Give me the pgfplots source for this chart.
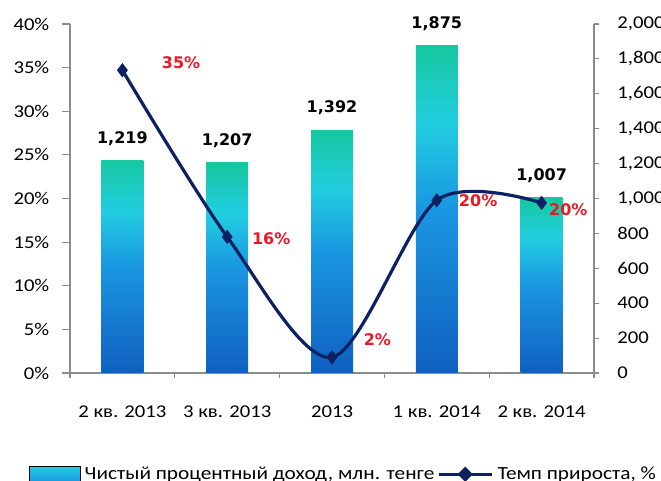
\documentclass[border=0pt]{standalone}
\usepackage{pgfplots}
\pgfplotsset{compat=1.18}
\usepackage{fontspec}
\setmainfont{Carlito}[FakeStretch=1.15]
\newfontfamily\lblfont{DejaVu Sans}
\definecolor{bartop}{RGB}{22,200,160}
\definecolor{barcyan}{RGB}{34,205,225}
\definecolor{barmid}{RGB}{26,150,225}
\definecolor{barbot}{RGB}{16,96,192}
\definecolor{navy}{RGB}{12,32,100}
\definecolor{lblred}{RGB}{235,25,35}
\definecolor{axgray}{RGB}{140,140,140}
\pgfdeclareverticalshading{barshade}{100bp}{color(0bp)=(barbot); color(25bp)=(barbot); color(50bp)=(barmid); color(63bp)=(barcyan); color(75bp)=(bartop); color(100bp)=(bartop)}
\pgfdeclareverticalshading{legshade}{100bp}{color(0bp)=(barmid); color(25bp)=(barmid); color(75bp)=(barcyan); color(100bp)=(barcyan)}
\pgfplotsset{
  redlbl/.style 2 args={draw=none, mark=none, forget plot,
    nodes near coords={\lblfont\bfseries\pgfplotspointmeta\%},
    point meta=explicit symbolic,
    every node near coord/.append style={font=\fontsize{12}{14}\selectfont, text=lblred, anchor=center, xshift=#1, yshift=#2}},
  onebar/.style={draw=none, shading=barshade, bar shift=0pt, forget plot,
    nodes near coords={\lblfont\bfseries\pgfmathprintnumber[assume math mode=true,1000 sep={,}]{\pgfplotspointmeta}},
    every node near coord/.append style={font=\fontsize{12}{14}\selectfont, black, anchor=south, inner sep=0pt, yshift=11pt}},
}

\begin{document}
\begin{tikzpicture}[x=1pt,y=1pt]
\useasboundingbox (-52.5,-81) rectangle (443.25,279.75);
\begin{axis}[
  at={(0,0)}, anchor=south west, scale only axis,
  width=393pt, height=261.75pt,
  xmin=-0.5, xmax=4.5, ymin=0, ymax=2000,
  axis y line*=right, axis x line*=bottom,
  axis line style={axgray, line width=0.9pt},
  tick align=outside,
  xtick={0,...,4},
  xticklabels={2 кв. 2013, 3 кв. 2013, 2013, 1 кв. 2014, 2 кв. 2014},
  major x tick style={draw=none},
  minor xtick={-0.5,0.5,1.5,2.5,3.5,4.5},
  minor x tick style={draw=axgray, line width=0.8pt},
  minor tick length=4pt,
  ytick={0,200,...,2000},
  ytick style={draw=axgray, line width=0.8pt},
  major tick length=4pt,
  yticklabel style={font=\fontsize{13.5}{16}\selectfont, /pgf/number format/assume math mode=true, /pgf/number format/1000 sep={,}, xshift=10pt},
  xticklabel style={font=\fontsize{13.5}{16}\selectfont, yshift=-17pt},
  ybar, bar width=31.5pt,
  clip=false,
]
\addplot[onebar] coordinates {(0,1219)};
\addplot[onebar] coordinates {(1,1207)};
\addplot[onebar] coordinates {(2,1392)};
\addplot[onebar] coordinates {(3,1875)};
\addplot[onebar] coordinates {(4,1007)};
\end{axis}
\begin{axis}[
  at={(0,0)}, anchor=south west, scale only axis,
  width=393pt, height=261.75pt,
  xmin=-0.5, xmax=4.5, ymin=0, ymax=40,
  axis y line*=left, axis x line=none,
  axis line style={axgray, line width=0.9pt},
  tick align=outside,
  ytick={0,5,...,40},
  ytick style={draw=axgray, line width=0.8pt},
  major tick length=6pt,
  yticklabel={\pgfmathprintnumber{\tick}\%},
  yticklabel style={font=\fontsize{13.5}{16}\selectfont, /pgf/number format/assume math mode=true, xshift=-6pt},
  clip=false,
  legend columns=2,
  legend style={at={(0.523,-0.29)}, anchor=center, draw=none, fill=none,
    font=\fontsize{13.9}{16}\selectfont, inner sep=0pt,
    /tikz/every odd column/.append style={column sep=1pt}},
]
\addlegendimage{legend image code/.code={\shade[shading=legshade] (0pt,-6pt) rectangle (38pt,6pt);}}
\addlegendentry{Чистый процентный доход, млн. тенге}
\addplot[navy, line width=2.4pt, smooth, mark=diamond*, mark size=5pt,
  mark options={fill=navy, line width=0.5pt},
  legend image code/.code={\draw[navy, line width=2.4pt] (0pt,0pt) -- (40pt,0pt); \fill[navy] (20pt,4pt) -- (24pt,0pt) -- (20pt,-4pt) -- (16pt,0pt) -- cycle;}]
  coordinates {(0,34.7) (1,15.6) (2,1.8) (3,19.8) (4,19.5)};
\addlegendentry{Темп прироста, \%}
\addplot[redlbl={44pt}{6pt}] coordinates {(0,34.7) [35]};
\addplot[redlbl={33pt}{-1.5pt}] coordinates {(1,15.6) [16]};
\addplot[redlbl={34pt}{13.5pt}] coordinates {(2,1.8) [2]};
\addplot[redlbl={31pt}{0pt}] coordinates {(3,19.8) [20]};
\addplot[redlbl={20pt}{-5pt}] coordinates {(4,19.5) [20]};
\end{axis}
\end{tikzpicture}
\end{document}
